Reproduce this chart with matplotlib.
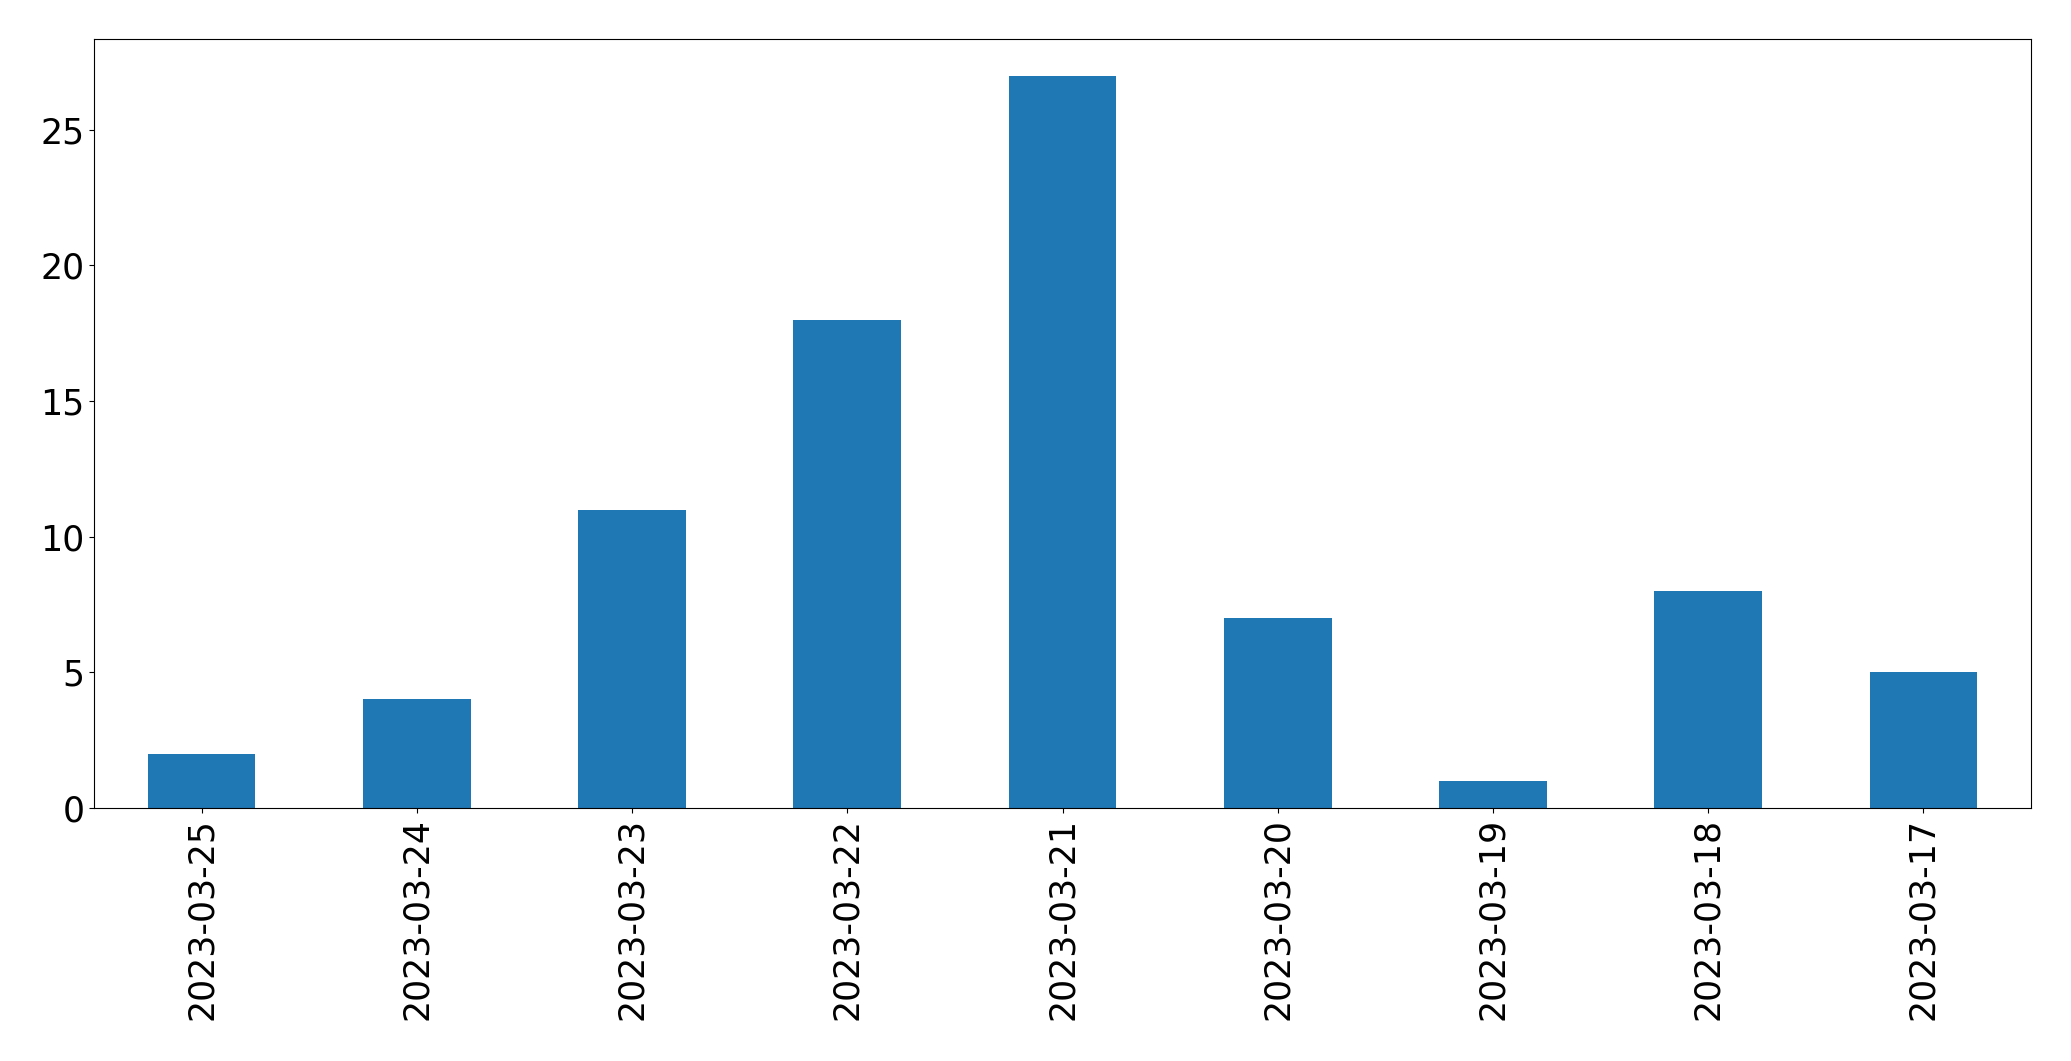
import matplotlib
matplotlib.use("Agg")
import matplotlib.pyplot as plt

dates = ["2023-03-25", "2023-03-24", "2023-03-23", "2023-03-22", "2023-03-21",
         "2023-03-20", "2023-03-19", "2023-03-18", "2023-03-17"]
counts = [2, 4, 11, 18, 27, 7, 1, 8, 5]

fig = plt.figure(figsize=(20.71, 10.61), dpi=100)
ax = fig.add_axes([94/2071, 1 - 808/1061, (2031-94)/2071, (808-39)/1061])
x = list(range(len(dates)))
ax.bar(x, counts, width=0.5, color="#1f77b4")
ax.set_xlim(-0.5, len(dates) - 0.5)
ax.set_ylim(0, max(counts) * 1.05)
ax.set_xticks(x)
ax.set_xticklabels(dates, rotation=90)
ax.tick_params(labelsize=25)
fig.savefig("out.png", dpi=100)
